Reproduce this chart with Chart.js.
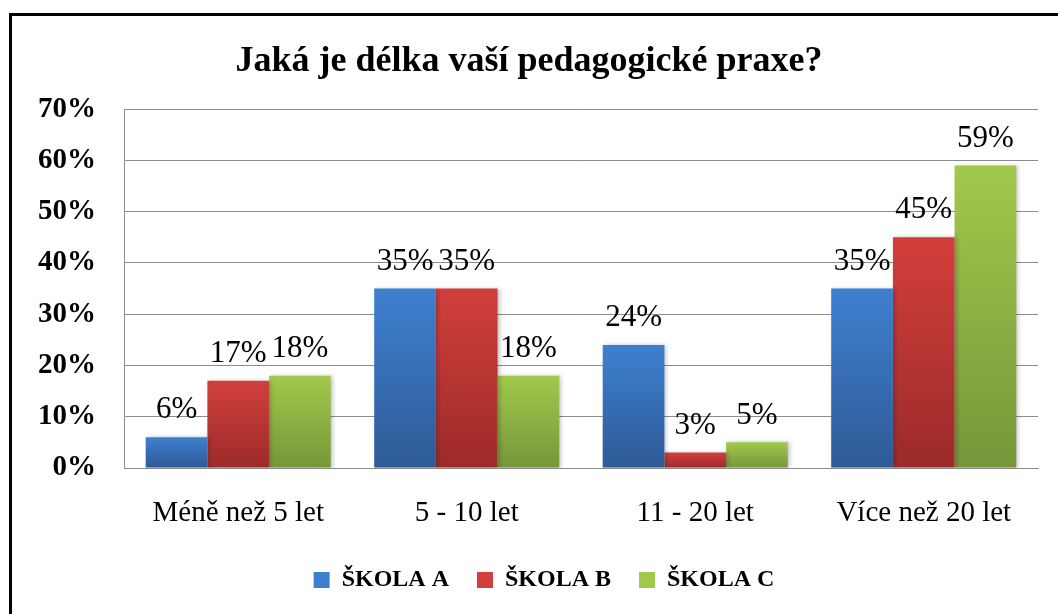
<!DOCTYPE html>
<html>
<head>
<meta charset="utf-8">
<script src="https://cdn.jsdelivr.net/npm/chart.js@4.4.1/dist/chart.umd.min.js"></script>
<style>
  html, body { margin: 0; padding: 0; background: #fff; overflow: hidden; }
  #frame { position: absolute; left: 9px; top: 13px; width: 1200px; height: 800px; border: 3px solid #000; box-sizing: border-box; }
  #wrap { position: absolute; left: 0; top: 0; width: 1058px; height: 614px; }
</style>
</head>
<body>
<div id="frame"></div>
<div id="wrap"><canvas id="c" width="1058" height="614"></canvas></div>
<script>
const categories = ["Méně než 5 let", "5 - 10 let", "11 - 20 let", "Více než 20 let"];
const seriesNames = ["ŠKOLA A", "ŠKOLA B", "ŠKOLA C"];
const skolaA = [6, 35, 24, 35];
const skolaB = [17, 35, 3, 45];
const skolaC = [18, 18, 5, 59];
const yTicks = [0, 10, 20, 30, 40, 50, 60, 70];

const colorsTop = ["#3e80d0", "#d23f3c", "#a1c94b"];
const colorsBottom = ["#2e5a96", "#9b2b29", "#77963a"];

function gradFor(i) {
  return function(ctx) {
    const chart = ctx.chart;
    const ys = chart.scales && chart.scales.y;
    if (!chart.chartArea || !ys || ctx.type !== 'data') return colorsTop[i];
    const v = ctx.raw;
    const top = ys.getPixelForValue(v);
    const bot = ys.getPixelForValue(0);
    if (!isFinite(top) || !isFinite(bot) || top === bot) return colorsTop[i];
    const g = chart.ctx.createLinearGradient(0, top, 0, bot);
    g.addColorStop(0, colorsTop[i]);
    g.addColorStop(1, colorsBottom[i]);
    return g;
  };
}

const labelPlugin = {
  id: 'valLabels',
  afterLayout(chart) {
    if (chart.legend) {
      chart.legend.left += 15;
      chart.legend.right += 15;
    }
  },
  beforeDatasetsDraw(chart) {
    const c = chart.ctx;
    c.save();
    c.shadowColor = 'rgba(0,0,0,0.22)';
    c.shadowBlur = 4;
    c.shadowOffsetX = 2;
    c.shadowOffsetY = 0;
  },
  afterDatasetsDraw(chart) {
    const c = chart.ctx;
    c.restore();
    c.save();
    c.font = '31px "Liberation Serif"';
    c.fillStyle = '#000';
    c.textAlign = 'center';
    c.textBaseline = 'middle';
    chart.data.datasets.forEach((ds, di) => {
      const meta = chart.getDatasetMeta(di);
      meta.data.forEach((el, i) => {
        c.fillText(ds.data[i] + '%', el.x, el.y - 27);
      });
    });
    c.restore();
  }
};

const datasets = [skolaA, skolaB, skolaC].map((d, i) => ({
  label: seriesNames[i],
  data: d,
  backgroundColor: gradFor(i),
  borderWidth: 0,
  categoryPercentage: 0.81,
  barPercentage: 1.0
}));

new Chart(document.getElementById('c'), {
  type: 'bar',
  data: { labels: categories, datasets },
  plugins: [labelPlugin],
  options: {
    responsive: false,
    animation: false,
    events: [],
    layout: { padding: { left: 20, right: 20, top: 0, bottom: 12 } },
    plugins: {
      title: {
        display: true,
        text: 'Jaká je délka vaší pedagogické praxe?',
        color: '#000',
        font: { family: 'Liberation Serif', size: 36, weight: 'bold', lineHeight: 1.2 },
        padding: { top: 40, bottom: 26 }
      },
      legend: {
        display: true,
        position: 'bottom',
        labels: {
          color: '#000',
          font: { family: 'Liberation Serif', size: 24, weight: 'bold' },
          boxWidth: 16,
          boxHeight: 16,
          padding: 28,
          generateLabels(chart) {
            return chart.data.datasets.map((ds, i) => ({
              text: ds.label,
              fillStyle: colorsTop[i],
              strokeStyle: colorsTop[i],
              lineWidth: 0,
              datasetIndex: i,
              hidden: false
            }));
          }
        }
      },
      tooltip: { enabled: false }
    },
    scales: {
      x: {
        afterFit(scale) { scale.height = 72; },
        grid: { display: false, drawTicks: false },
        border: { display: true, color: '#8c8c8c', width: 1 },
        ticks: {
          color: '#000',
          font: { family: 'Liberation Serif', size: 29 },
          padding: 28
        }
      },
      y: {
        min: 0,
        max: 70,
        afterFit(scale) { scale.width = 104; },
        afterBuildTicks(scale) { scale.ticks = yTicks.map(v => ({ value: v })); },
        grid: { color: '#8c8c8c', lineWidth: 1, drawTicks: false },
        border: { display: true, color: '#8c8c8c', width: 1 },
        ticks: {
          color: '#000',
          font: { family: 'Liberation Serif', size: 29, weight: 'bold' },
          padding: 28,
          callback: v => v + '%'
        }
      }
    }
  }
});
</script>
</body>
</html>
